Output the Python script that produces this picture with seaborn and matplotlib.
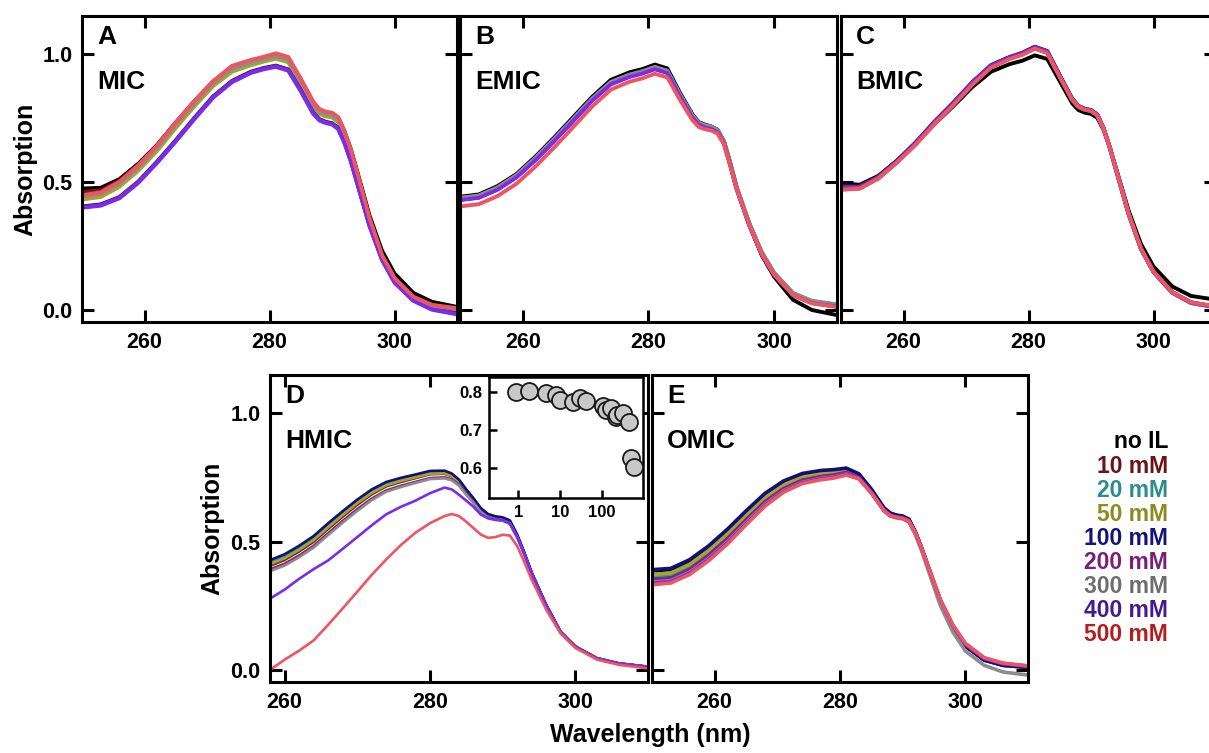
import matplotlib
matplotlib.use('Agg')
import matplotlib.pyplot as plt
import seaborn as sns
from matplotlib.ticker import FormatStrFormatter, NullLocator

# wavelength grids (nm)
wl = [250, 253, 256, 259, 262, 265, 268, 271, 274, 277, 279, 281, 283, 285, 287, 288,
      289, 290, 291, 292, 293, 294, 296, 298, 300, 303, 306, 310]
wl_d = [258, 260, 262, 264, 266, 268, 270, 272, 274, 276, 278, 280, 282, 283, 284, 285,
        286, 287, 288, 289, 290, 291, 292, 293, 294, 296, 298, 300, 303, 306, 310]

conditions = ['no IL', '10 mM', '20 mM', '50 mM', '100 mM', '200 mM', '300 mM', '400 mM', '500 mM']
line_colors = ['#000000', '#7A1616', '#339999', '#A5A52A', '#101078', '#862286', '#8C8C8C', '#7B2BEB', '#EE5560']
text_colors = ['#000000', '#6B1414', '#2A8C8C', '#8C8C1E', '#14147A', '#7A1E7A', '#6E6E6E', '#461A8C', '#B41E1E']

# panel A, MIC  (rows follow `conditions`)
mic = [
    [0.475, 0.478, 0.512, 0.572, 0.645, 0.733, 0.816, 0.891, 0.949, 0.972, 0.984, 0.998, 0.984, 0.900, 0.810, 0.781, 0.771, 0.767, 0.750, 0.697, 0.630, 0.545, 0.370, 0.232, 0.143, 0.067, 0.032, 0.012],
    [0.462, 0.468, 0.506, 0.568, 0.643, 0.732, 0.816, 0.894, 0.951, 0.975, 0.987, 1.000, 0.986, 0.902, 0.811, 0.782, 0.772, 0.768, 0.751, 0.697, 0.627, 0.537, 0.357, 0.214, 0.125, 0.052, 0.020, 0.006],
    [0.440, 0.450, 0.490, 0.553, 0.630, 0.720, 0.805, 0.884, 0.940, 0.965, 0.979, 0.991, 0.977, 0.893, 0.800, 0.774, 0.764, 0.760, 0.742, 0.690, 0.620, 0.532, 0.352, 0.210, 0.121, 0.048, 0.016, 0.002],
    [0.432, 0.442, 0.482, 0.545, 0.622, 0.712, 0.797, 0.876, 0.932, 0.957, 0.971, 0.983, 0.969, 0.886, 0.793, 0.767, 0.757, 0.753, 0.735, 0.683, 0.614, 0.526, 0.347, 0.206, 0.118, 0.045, 0.013, 0.000],
    [0.405, 0.413, 0.442, 0.502, 0.580, 0.664, 0.752, 0.836, 0.896, 0.932, 0.946, 0.956, 0.941, 0.861, 0.772, 0.746, 0.736, 0.731, 0.712, 0.657, 0.587, 0.502, 0.332, 0.200, 0.111, 0.040, 0.005, -0.013],
    [0.403, 0.411, 0.440, 0.500, 0.578, 0.662, 0.750, 0.834, 0.894, 0.930, 0.944, 0.954, 0.939, 0.859, 0.770, 0.744, 0.734, 0.729, 0.710, 0.655, 0.585, 0.500, 0.330, 0.198, 0.109, 0.038, 0.003, -0.015],
    [0.444, 0.454, 0.494, 0.557, 0.634, 0.724, 0.809, 0.887, 0.944, 0.968, 0.982, 0.994, 0.980, 0.896, 0.803, 0.777, 0.767, 0.763, 0.745, 0.692, 0.622, 0.534, 0.354, 0.211, 0.122, 0.049, 0.017, 0.003],
    [0.400, 0.408, 0.437, 0.497, 0.575, 0.659, 0.747, 0.831, 0.891, 0.927, 0.941, 0.951, 0.936, 0.856, 0.767, 0.741, 0.731, 0.726, 0.707, 0.652, 0.582, 0.497, 0.328, 0.196, 0.107, 0.036, 0.001, -0.017],
    [0.449, 0.460, 0.502, 0.566, 0.642, 0.733, 0.819, 0.896, 0.955, 0.978, 0.990, 1.004, 0.990, 0.905, 0.815, 0.786, 0.776, 0.772, 0.755, 0.700, 0.630, 0.540, 0.360, 0.215, 0.125, 0.052, 0.020, 0.007],
]

# panel B, EMIC
emic = [
    [0.443, 0.452, 0.485, 0.532, 0.600, 0.675, 0.754, 0.833, 0.900, 0.930, 0.942, 0.960, 0.945, 0.850, 0.765, 0.735, 0.725, 0.718, 0.705, 0.660, 0.575, 0.480, 0.335, 0.215, 0.130, 0.040, 0.000, -0.020],
    [0.437, 0.446, 0.478, 0.526, 0.593, 0.668, 0.746, 0.825, 0.890, 0.919, 0.932, 0.949, 0.934, 0.842, 0.759, 0.731, 0.721, 0.715, 0.702, 0.659, 0.575, 0.482, 0.341, 0.226, 0.144, 0.065, 0.034, 0.020],
    [0.435, 0.444, 0.476, 0.524, 0.591, 0.666, 0.744, 0.823, 0.888, 0.917, 0.930, 0.947, 0.932, 0.840, 0.757, 0.729, 0.719, 0.713, 0.700, 0.657, 0.573, 0.480, 0.339, 0.224, 0.142, 0.063, 0.032, 0.018],
    [0.433, 0.442, 0.474, 0.522, 0.589, 0.664, 0.742, 0.821, 0.886, 0.915, 0.928, 0.945, 0.930, 0.838, 0.755, 0.727, 0.717, 0.711, 0.698, 0.655, 0.571, 0.478, 0.337, 0.222, 0.140, 0.061, 0.030, 0.016],
    [0.432, 0.441, 0.473, 0.521, 0.588, 0.663, 0.741, 0.820, 0.885, 0.914, 0.927, 0.944, 0.929, 0.837, 0.754, 0.726, 0.716, 0.710, 0.697, 0.654, 0.570, 0.477, 0.336, 0.221, 0.139, 0.060, 0.029, 0.015],
    [0.431, 0.440, 0.472, 0.520, 0.587, 0.662, 0.740, 0.819, 0.884, 0.913, 0.926, 0.943, 0.928, 0.836, 0.753, 0.725, 0.715, 0.709, 0.696, 0.653, 0.569, 0.476, 0.335, 0.220, 0.138, 0.059, 0.028, 0.014],
    [0.439, 0.448, 0.480, 0.528, 0.595, 0.670, 0.748, 0.827, 0.892, 0.921, 0.934, 0.951, 0.936, 0.844, 0.761, 0.733, 0.723, 0.717, 0.704, 0.661, 0.577, 0.484, 0.343, 0.228, 0.146, 0.067, 0.036, 0.022],
    [0.430, 0.439, 0.471, 0.519, 0.586, 0.661, 0.739, 0.818, 0.883, 0.912, 0.925, 0.942, 0.927, 0.835, 0.752, 0.724, 0.714, 0.708, 0.695, 0.652, 0.568, 0.475, 0.334, 0.219, 0.137, 0.058, 0.027, 0.013],
    [0.405, 0.414, 0.446, 0.494, 0.561, 0.636, 0.715, 0.795, 0.862, 0.893, 0.906, 0.924, 0.910, 0.822, 0.742, 0.716, 0.707, 0.702, 0.690, 0.648, 0.566, 0.475, 0.335, 0.220, 0.138, 0.058, 0.026, 0.012],
]

# panel C, BMIC
bmic = [
    [0.495, 0.490, 0.525, 0.585, 0.652, 0.728, 0.798, 0.872, 0.932, 0.962, 0.975, 0.996, 0.982, 0.895, 0.808, 0.782, 0.772, 0.767, 0.752, 0.705, 0.636, 0.555, 0.390, 0.258, 0.170, 0.092, 0.055, 0.040],
    [0.478, 0.479, 0.518, 0.581, 0.652, 0.733, 0.807, 0.886, 0.953, 0.986, 1.002, 1.026, 1.009, 0.915, 0.824, 0.797, 0.786, 0.781, 0.764, 0.711, 0.637, 0.551, 0.379, 0.241, 0.151, 0.070, 0.030, 0.013],
    [0.476, 0.477, 0.516, 0.579, 0.650, 0.731, 0.805, 0.884, 0.951, 0.984, 1.000, 1.024, 1.007, 0.913, 0.822, 0.795, 0.784, 0.779, 0.762, 0.709, 0.635, 0.549, 0.377, 0.239, 0.149, 0.068, 0.028, 0.011],
    [0.480, 0.481, 0.520, 0.583, 0.654, 0.735, 0.809, 0.888, 0.955, 0.988, 1.004, 1.028, 1.011, 0.916, 0.825, 0.797, 0.786, 0.781, 0.764, 0.711, 0.636, 0.550, 0.378, 0.240, 0.150, 0.069, 0.029, 0.012],
    [0.485, 0.484, 0.522, 0.585, 0.657, 0.738, 0.812, 0.891, 0.958, 0.990, 1.006, 1.030, 1.013, 0.918, 0.826, 0.798, 0.787, 0.782, 0.765, 0.712, 0.637, 0.550, 0.378, 0.240, 0.150, 0.069, 0.029, 0.012],
    [0.482, 0.482, 0.521, 0.584, 0.656, 0.737, 0.811, 0.890, 0.957, 0.989, 1.005, 1.029, 1.012, 0.917, 0.825, 0.797, 0.786, 0.781, 0.764, 0.711, 0.636, 0.549, 0.377, 0.239, 0.149, 0.068, 0.028, 0.011],
    [0.474, 0.476, 0.515, 0.578, 0.649, 0.730, 0.804, 0.883, 0.950, 0.983, 0.999, 1.023, 1.006, 0.912, 0.821, 0.794, 0.783, 0.778, 0.761, 0.708, 0.634, 0.548, 0.376, 0.238, 0.148, 0.067, 0.027, 0.010],
    [0.472, 0.476, 0.516, 0.580, 0.652, 0.734, 0.808, 0.887, 0.954, 0.987, 1.003, 1.027, 1.010, 0.915, 0.824, 0.796, 0.785, 0.780, 0.763, 0.710, 0.636, 0.549, 0.377, 0.239, 0.149, 0.068, 0.028, 0.011],
    [0.470, 0.475, 0.515, 0.578, 0.648, 0.729, 0.802, 0.881, 0.948, 0.982, 0.998, 1.022, 1.005, 0.912, 0.822, 0.795, 0.784, 0.779, 0.762, 0.710, 0.636, 0.550, 0.378, 0.240, 0.150, 0.070, 0.030, 0.014],
]

# panel D, HMIC (on wl_d)
hmic = [
    [0.424, 0.447, 0.480, 0.518, 0.568, 0.615, 0.660, 0.700, 0.729, 0.745, 0.758, 0.772, 0.773, 0.762, 0.738, 0.700, 0.666, 0.628, 0.605, 0.596, 0.592, 0.580, 0.525, 0.455, 0.378, 0.252, 0.147, 0.091, 0.045, 0.025, 0.012],
    [0.406, 0.429, 0.462, 0.500, 0.550, 0.598, 0.644, 0.685, 0.716, 0.733, 0.748, 0.763, 0.765, 0.755, 0.732, 0.695, 0.661, 0.624, 0.601, 0.592, 0.588, 0.576, 0.522, 0.452, 0.375, 0.250, 0.146, 0.090, 0.045, 0.025, 0.012],
    [0.420, 0.443, 0.476, 0.514, 0.564, 0.611, 0.657, 0.697, 0.727, 0.743, 0.757, 0.771, 0.772, 0.761, 0.737, 0.699, 0.665, 0.627, 0.604, 0.595, 0.591, 0.579, 0.524, 0.454, 0.377, 0.251, 0.147, 0.091, 0.045, 0.025, 0.012],
    [0.412, 0.435, 0.468, 0.506, 0.556, 0.604, 0.650, 0.690, 0.720, 0.737, 0.751, 0.765, 0.767, 0.757, 0.734, 0.697, 0.663, 0.626, 0.603, 0.594, 0.590, 0.578, 0.523, 0.453, 0.376, 0.251, 0.147, 0.091, 0.045, 0.025, 0.012],
    [0.428, 0.451, 0.484, 0.522, 0.572, 0.619, 0.664, 0.704, 0.733, 0.749, 0.762, 0.776, 0.777, 0.766, 0.742, 0.704, 0.669, 0.631, 0.608, 0.599, 0.595, 0.583, 0.528, 0.457, 0.380, 0.254, 0.149, 0.092, 0.046, 0.026, 0.013],
    [0.392, 0.414, 0.446, 0.484, 0.533, 0.581, 0.627, 0.668, 0.700, 0.718, 0.733, 0.748, 0.751, 0.743, 0.722, 0.687, 0.654, 0.618, 0.596, 0.588, 0.584, 0.573, 0.520, 0.451, 0.375, 0.250, 0.146, 0.090, 0.045, 0.025, 0.012],
    [0.385, 0.407, 0.439, 0.477, 0.526, 0.574, 0.620, 0.662, 0.695, 0.713, 0.729, 0.744, 0.747, 0.739, 0.718, 0.683, 0.651, 0.615, 0.594, 0.586, 0.582, 0.571, 0.518, 0.450, 0.374, 0.249, 0.146, 0.090, 0.045, 0.025, 0.012],
    [0.278, 0.313, 0.355, 0.393, 0.427, 0.472, 0.518, 0.564, 0.607, 0.636, 0.660, 0.689, 0.711, 0.704, 0.683, 0.660, 0.636, 0.606, 0.591, 0.585, 0.583, 0.570, 0.517, 0.450, 0.374, 0.250, 0.146, 0.090, 0.045, 0.025, 0.012],
    [0.000, 0.040, 0.075, 0.115, 0.176, 0.240, 0.305, 0.371, 0.431, 0.487, 0.535, 0.572, 0.600, 0.608, 0.600, 0.578, 0.553, 0.528, 0.515, 0.518, 0.527, 0.524, 0.483, 0.420, 0.352, 0.235, 0.141, 0.086, 0.040, 0.020, 0.006],
]

# panel E, OMIC
omic = [
    [0.386, 0.391, 0.425, 0.478, 0.543, 0.615, 0.683, 0.732, 0.762, 0.774, 0.777, 0.783, 0.762, 0.703, 0.631, 0.610, 0.602, 0.598, 0.586, 0.539, 0.476, 0.405, 0.266, 0.166, 0.094, 0.039, 0.018, 0.010],
    [0.360, 0.366, 0.400, 0.454, 0.519, 0.592, 0.662, 0.713, 0.745, 0.759, 0.764, 0.773, 0.754, 0.696, 0.626, 0.606, 0.598, 0.594, 0.583, 0.537, 0.476, 0.407, 0.270, 0.170, 0.098, 0.043, 0.022, 0.013],
    [0.366, 0.372, 0.406, 0.460, 0.525, 0.598, 0.667, 0.718, 0.749, 0.763, 0.768, 0.776, 0.756, 0.698, 0.627, 0.607, 0.599, 0.595, 0.584, 0.537, 0.476, 0.406, 0.269, 0.169, 0.097, 0.042, 0.021, 0.012],
    [0.372, 0.378, 0.412, 0.466, 0.531, 0.604, 0.673, 0.723, 0.754, 0.767, 0.771, 0.778, 0.758, 0.700, 0.629, 0.608, 0.600, 0.596, 0.585, 0.538, 0.476, 0.406, 0.268, 0.168, 0.096, 0.041, 0.020, 0.012],
    [0.391, 0.396, 0.430, 0.483, 0.548, 0.620, 0.688, 0.737, 0.766, 0.778, 0.781, 0.787, 0.765, 0.705, 0.633, 0.612, 0.604, 0.600, 0.588, 0.540, 0.477, 0.405, 0.265, 0.165, 0.093, 0.038, 0.018, 0.010],
    [0.352, 0.358, 0.392, 0.446, 0.511, 0.585, 0.655, 0.707, 0.740, 0.754, 0.760, 0.770, 0.751, 0.694, 0.624, 0.604, 0.597, 0.593, 0.582, 0.536, 0.476, 0.408, 0.272, 0.172, 0.100, 0.045, 0.024, 0.014],
    [0.342, 0.348, 0.381, 0.434, 0.499, 0.574, 0.645, 0.699, 0.732, 0.747, 0.753, 0.764, 0.747, 0.690, 0.620, 0.600, 0.593, 0.589, 0.577, 0.529, 0.466, 0.394, 0.252, 0.148, 0.074, 0.018, -0.008, -0.020],
    [0.338, 0.344, 0.377, 0.430, 0.495, 0.570, 0.641, 0.696, 0.730, 0.745, 0.751, 0.763, 0.747, 0.691, 0.622, 0.602, 0.595, 0.591, 0.580, 0.535, 0.476, 0.409, 0.274, 0.174, 0.102, 0.046, 0.025, 0.015],
    [0.332, 0.339, 0.372, 0.425, 0.490, 0.566, 0.638, 0.693, 0.727, 0.742, 0.748, 0.760, 0.745, 0.690, 0.622, 0.602, 0.595, 0.591, 0.580, 0.536, 0.477, 0.410, 0.275, 0.176, 0.104, 0.048, 0.027, 0.016],
]

# inset of D: absorption vs concentration (mM)
inset_conc = [0.9, 1.8, 4.7, 7.9, 9.9, 20, 30, 41, 104, 125, 160, 212, 233, 320, 450, 485, 574]
inset_abs = [0.800, 0.802, 0.798, 0.793, 0.780, 0.774, 0.784, 0.777, 0.764, 0.754, 0.759,
             0.735, 0.741, 0.744, 0.722, 0.626, 0.604]

sns.set_theme(style='ticks')
plt.rcParams['font.family'] = ['Liberation Sans', 'DejaVu Sans']
plt.rcParams['font.weight'] = 'bold'
plt.rcParams['axes.labelweight'] = 'bold'
plt.rcParams['text.color'] = 'black'
plt.rcParams['axes.labelcolor'] = 'black'
plt.rcParams['xtick.color'] = 'black'
plt.rcParams['ytick.color'] = 'black'

fig = plt.figure(figsize=(12.09, 7.53), dpi=100)
W, H = 1209.0, 753.0


def add_panel(left, top, right, bottom):
    return fig.add_axes([left / W, 1 - bottom / H, (right - left) / W, (bottom - top) / H])


def draw_panel(ax, x, curves, lw, xlim, letter, name, show_y):
    for vals, c in zip(curves, line_colors):
        sns.lineplot(x=x, y=vals, ax=ax, color=c, linewidth=lw, legend=False)
    ax.set_xlim(*xlim)
    ax.set_ylim(-0.047, 1.15)
    ax.set_xticks([260, 280, 300])
    ax.set_yticks([0.0, 0.5, 1.0])
    ax.yaxis.set_major_formatter(FormatStrFormatter('%.1f'))
    ax.tick_params(direction='in', length=8.5, width=2.2, top=True, right=True,
                   labelsize=15.5, pad=7, labelleft=show_y, colors='black')
    for s in ax.spines.values():
        s.set_linewidth(2.2)
        s.set_color('black')
    ax.set_xlabel('')
    ax.set_ylabel('')
    ax.text(0.04, 0.93, letter, transform=ax.transAxes, fontsize=19, fontweight='bold',
            va='center', color='black')
    ax.text(0.04, 0.785, name, transform=ax.transAxes, fontsize=19, fontweight='bold',
            va='center', color='black')


ax_a = add_panel(82, 16, 457, 322)
ax_b = add_panel(460, 16, 837, 322)
ax_c = add_panel(841, 16, 1216, 322)
ax_d = add_panel(270, 375, 648, 682)
ax_e = add_panel(652, 375, 1028, 682)

draw_panel(ax_a, wl, mic, 2.8, (250, 310), 'A', 'MIC', True)
draw_panel(ax_b, wl, emic, 2.8, (250, 310), 'B', 'EMIC', False)
draw_panel(ax_c, wl, bmic, 2.8, (250, 310), 'C', 'BMIC', False)
draw_panel(ax_d, wl_d, hmic, 1.9, (258, 310), 'D', 'HMIC', True)
draw_panel(ax_e, wl, omic, 2.6, (250, 310), 'E', 'OMIC', False)

ax_a.set_ylabel('Absorption', fontsize=18, fontweight='bold')
ax_a.yaxis.set_label_coords(-0.118, 0.5)
ax_d.set_ylabel('Absorption', fontsize=18, fontweight='bold')
ax_d.yaxis.set_label_coords(-0.122, 0.5)

# inset
ax_in = add_panel(489, 377, 643, 498)
sns.scatterplot(x=inset_conc, y=inset_abs, ax=ax_in, s=150, color='#C8C8C8',
                edgecolor='#1A1A1A', linewidth=1.3, zorder=3, legend=False)
ax_in.set_xscale('log')
ax_in.set_xlim(0.2, 946)
ax_in.set_ylim(0.521, 0.84)
ax_in.set_xticks([1, 10, 100])
ax_in.set_xticklabels(['1', '10', '100'])
ax_in.xaxis.set_minor_locator(NullLocator())
ax_in.set_yticks([0.6, 0.7, 0.8])
ax_in.yaxis.set_major_formatter(FormatStrFormatter('%.1f'))
ax_in.tick_params(direction='in', length=6, width=1.8, labelsize=12, pad=5, colors='black')
for s in ax_in.spines.values():
    s.set_linewidth(1.8)
    s.set_color('black')

fig.text(650 / W, 1 - 735 / H, 'Wavelength (nm)', ha='center', va='center',
         fontsize=18, fontweight='bold', color='black')

# colour-coded legend
for i, (lab, c) in enumerate(zip(conditions, text_colors)):
    fig.text(1168 / W, 1 - (442 + i * 24.1) / H, lab, ha='right', va='center',
             fontsize=16.5, fontweight='bold', color=c)

fig.savefig('out.png', dpi=100)
